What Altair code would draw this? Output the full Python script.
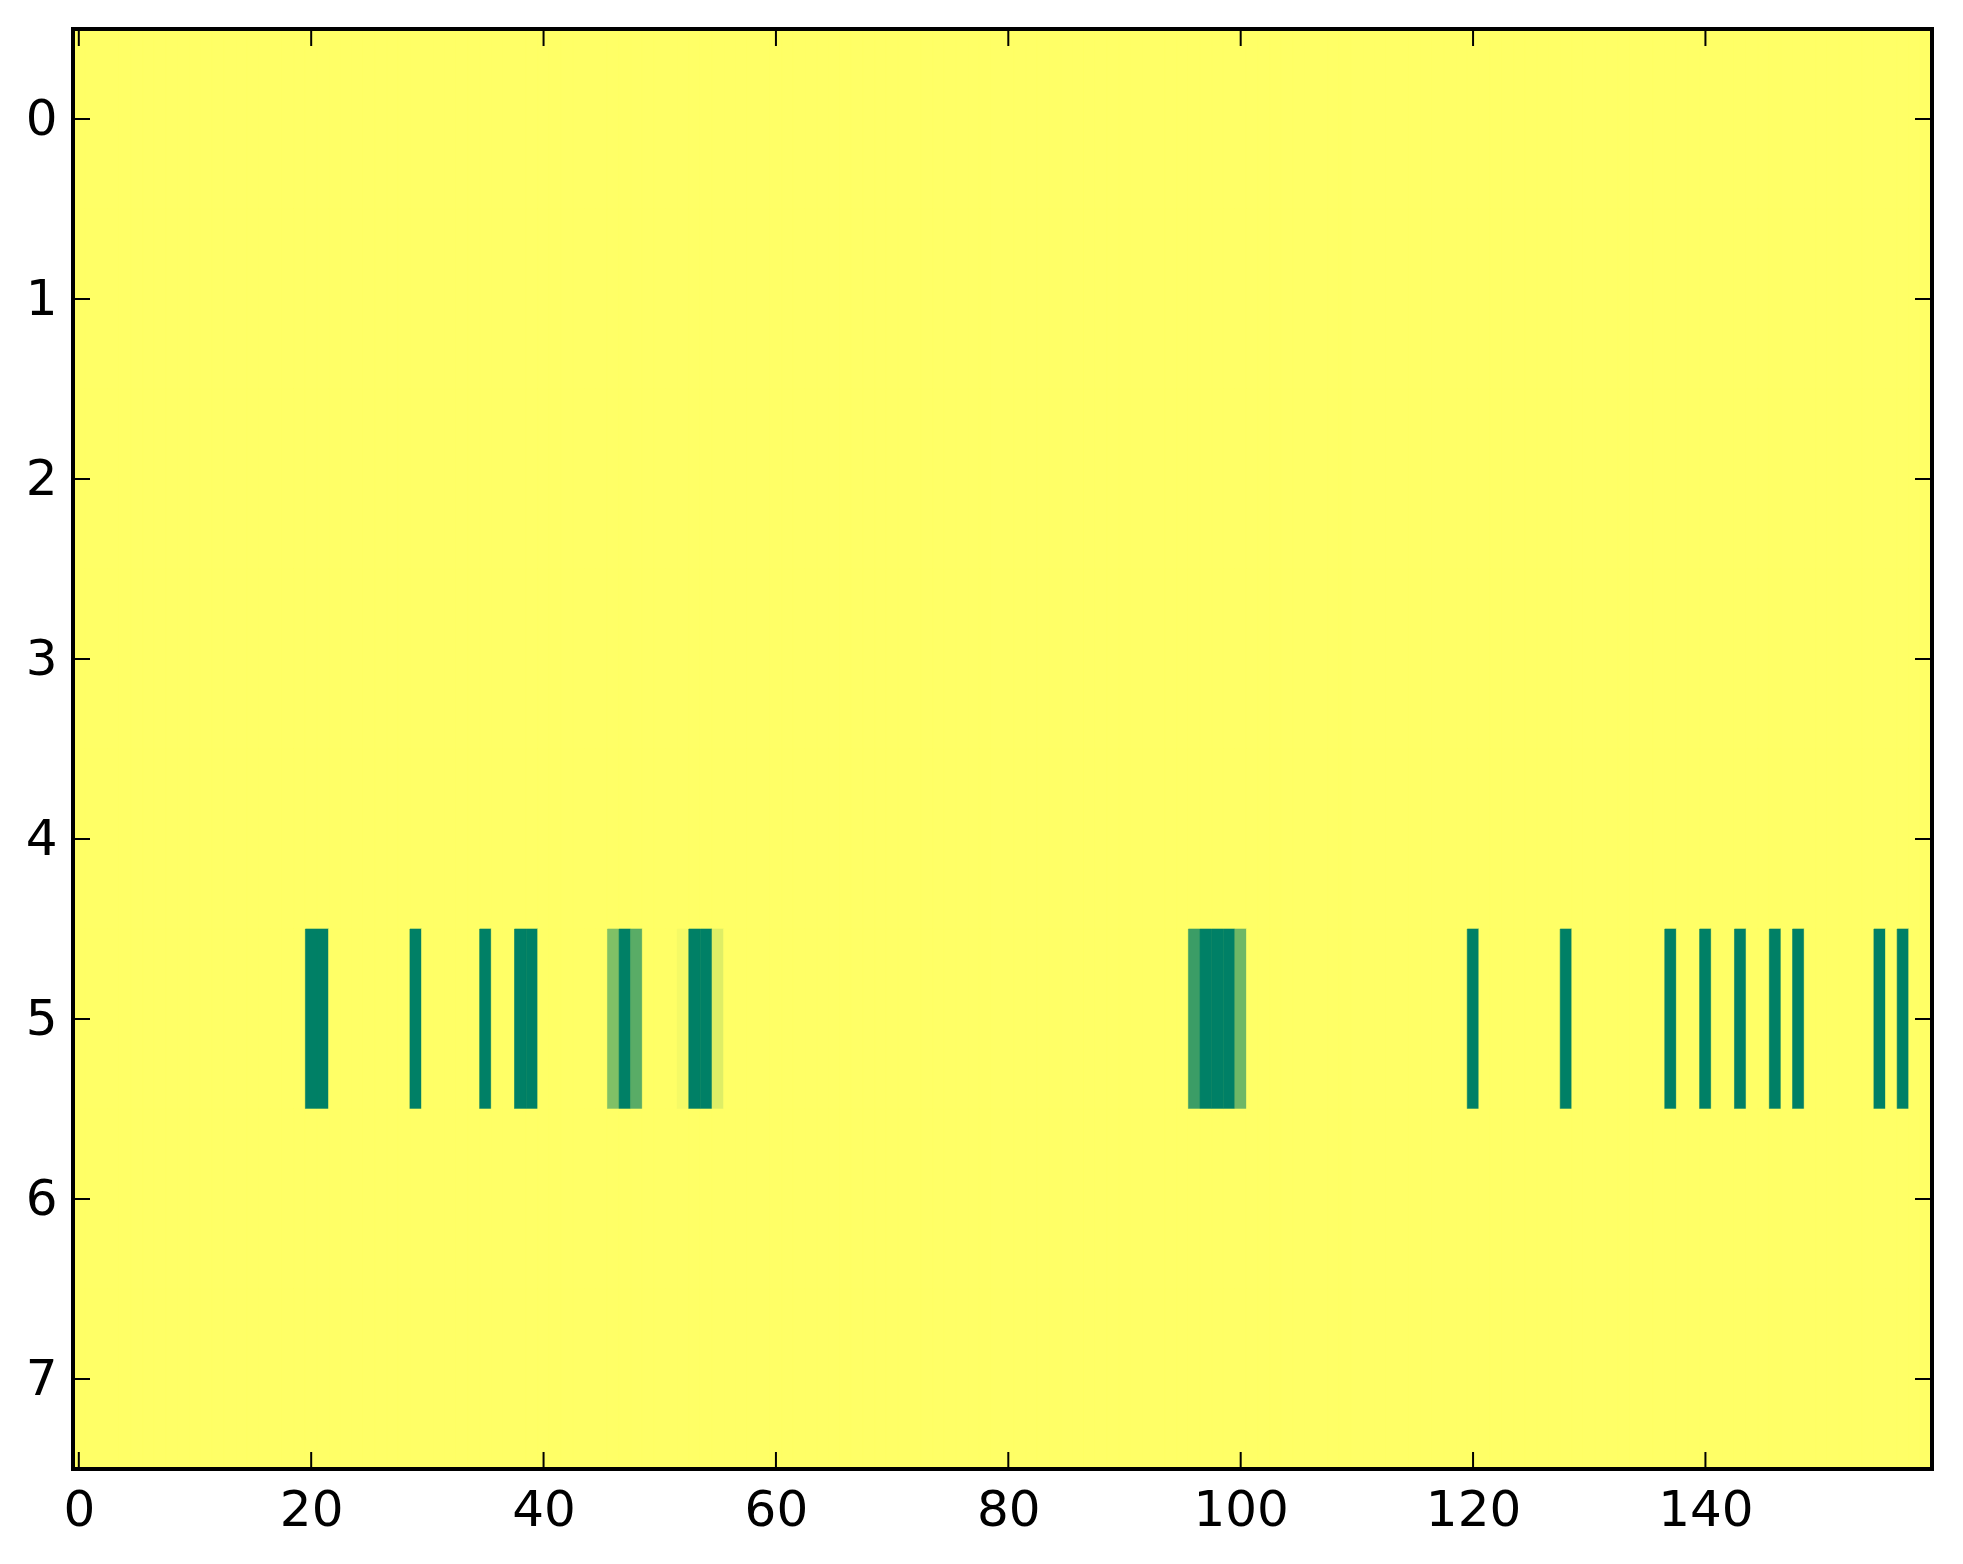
import altair as alt
import pandas as pd

# ---- data ----
n_rows = 8
n_cols = 160
active_row = 5
active_cols = [20, 21, 29, 35, 38, 39, 46, 47, 48, 52, 53, 54, 55,
               96, 97, 98, 99, 100, 120, 128, 137, 140, 143, 146, 148, 155, 157]
active_vals = [1, 1, 1, 1, 1, 1, 0.5, 1, 0.65, 0.04, 1, 1, 0.13,
               0.77, 1, 1, 1, 0.57, 1, 1, 1, 1, 1, 1, 1, 1, 1]
x_ticks = [0, 20, 40, 60, 80, 100, 120, 140]
y_ticks = [0, 1, 2, 3, 4, 5, 6, 7]

vals = dict(zip(active_cols, active_vals))
rows = []
for r in range(n_rows):
    for c in range(n_cols):
        v = vals.get(c, 0.0) if r == active_row else 0.0
        rows.append({"r0": r - 0.5, "r1": r + 0.5, "c0": c - 0.5, "c1": c + 0.5, "v": v})
df = pd.DataFrame(rows)

W, H = 1859, 1440
TL = 17
xscale = alt.Scale(domain=[-0.5, n_cols - 0.5], nice=False, zero=False)
yscale = alt.Scale(domain=[-0.5, n_rows - 0.5], nice=False, zero=False, reverse=True)
cscale = alt.Scale(domain=[0, 1], range=["#ffff66", "#008066"], interpolate="rgb")

font = "DejaVu Sans"
heat = alt.Chart(df).mark_rect(strokeWidth=0.6).encode(
    x=alt.X("c0:Q", scale=xscale, title=None,
            axis=alt.Axis(values=x_ticks, ticks=False, tickSize=0, domain=False, grid=False,
                          labelFont=font, labelFontSize=50, labelColor="black",
                          labelPadding=16, format="d", labelFlush=False)),
    x2="c1",
    y=alt.Y("r0:Q", scale=yscale, title=None,
            axis=alt.Axis(values=y_ticks, ticks=False, tickSize=0, domain=False, grid=False,
                          labelFont=font, labelFontSize=50, labelColor="black",
                          labelPadding=16, format="d", labelFlush=False)),
    y2="r1",
    fill=alt.Color("v:Q", scale=cscale, legend=None),
    stroke=alt.Color("v:Q", scale=cscale, legend=None),
)

xt = pd.DataFrame({"t": x_ticks})
yt = pd.DataFrame({"t": y_ticks})
tick_style = dict(color="black", strokeWidth=2)
xb = alt.Chart(xt).mark_rule(**tick_style).encode(
    x=alt.X("t:Q", scale=xscale), y=alt.value(H - TL), y2=alt.value(H))
xtop = alt.Chart(xt).mark_rule(**tick_style).encode(
    x=alt.X("t:Q", scale=xscale), y=alt.value(0), y2=alt.value(TL))
yl = alt.Chart(yt).mark_rule(**tick_style).encode(
    y=alt.Y("t:Q", scale=yscale), x=alt.value(0), x2=alt.value(TL))
yr = alt.Chart(yt).mark_rule(**tick_style).encode(
    y=alt.Y("t:Q", scale=yscale), x=alt.value(W - TL), x2=alt.value(W))
frame = alt.Chart(xt.head(1)).mark_rect(filled=False, stroke="black", strokeWidth=4).encode(
    x=alt.value(0), x2=alt.value(W), y=alt.value(0), y2=alt.value(H))

chart = alt.layer(heat, xb, xtop, yl, yr, frame).properties(
    width=W, height=H,
    autosize=alt.AutoSizeParams(type="none"),
    padding={"left": 65, "top": 21, "right": 23, "bottom": 87},
    background="white",
).configure_view(stroke=None, fill="#ffff66")

chart.save("out.html", embed_options={"renderer": "svg", "actions": False})
